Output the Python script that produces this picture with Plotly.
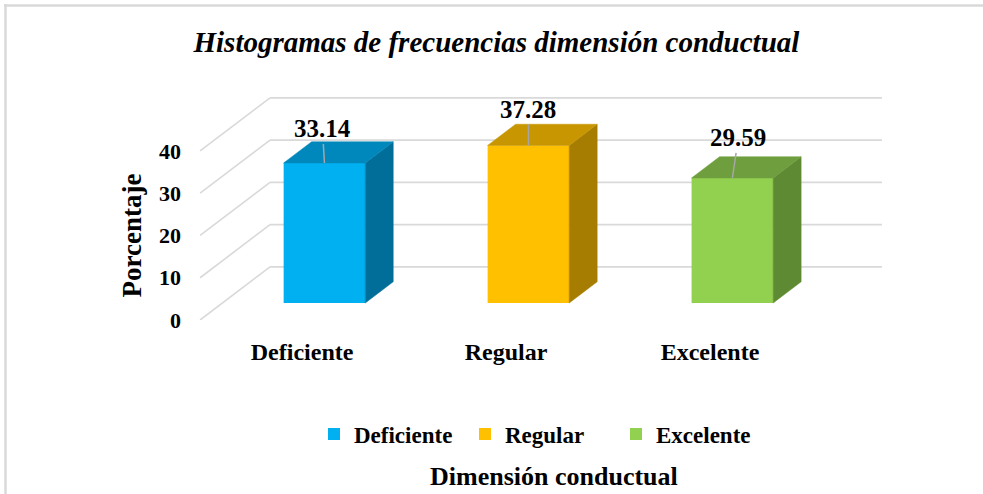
import plotly.graph_objects as go

# ---------------- data ----------------
CATEGORIES = ["Deficiente", "Regular", "Excelente"]
VALUES = [33.14, 37.28, 29.59]
Y_TICKS = [0, 10, 20, 30, 40]

TITLE = "Histogramas de frecuencias dimensión conductual"
X_TITLE = "Dimensión conductual"
Y_TITLE = "Porcentaje"

# ---------------- styles ----------------
FRONT_COLORS = ["#00B0F0", "#FFC000", "#92D050"]
TOP_COLORS = ["#0088BC", "#C79600", "#6F9E3E"]
SIDE_COLORS = ["#006E98", "#A67D00", "#5D8A33"]
GRID_COLOR = "#D9D9D9"
FONT = "Liberation Serif, Times New Roman, serif"

W, H = 983, 494
M_L, M_R, M_T, M_B = 196, 97, 96, 174
PW, PH = W - M_L - M_R, H - M_T - M_B

# oblique 3-D projection (in data units)
DEPTH_X, DEPTH_Y = 0.343, 12.56
D0, D1 = 0.32, 0.72          # bar front / back depth fractions
BAR_W = 0.40
X_RANGE = [-0.52, len(CATEGORIES) - 0.5 + DEPTH_X + 0.02]
Y_RANGE = [0, 53]
LABEL_SHIFT = [(-2, -34), (0, -36), (6, -40)]


def px_to_paper_x(px):
    return (px - M_L) / PW


def px_to_paper_y(py):
    return (H - M_B - py) / PH


fig = go.Figure()

# walls: left side wall diagonals + back wall horizontal gridlines
x_wall = -0.5
x_end = len(CATEGORIES) - 0.5
for t in Y_TICKS:
    fig.add_shape(type="line", xref="x", yref="y", layer="below",
                  x0=x_wall, y0=t, x1=x_wall + DEPTH_X, y1=t + DEPTH_Y,
                  line=dict(color=GRID_COLOR, width=1.6))
    fig.add_shape(type="line", xref="x", yref="y", layer="below",
                  x0=x_wall + DEPTH_X, y0=t + DEPTH_Y, x1=x_end + DEPTH_X, y1=t + DEPTH_Y,
                  line=dict(color=GRID_COLOR, width=1.6))

ddx = (D1 - D0) * DEPTH_X
ddy = (D1 - D0) * DEPTH_Y
base = D0 * DEPTH_Y

for i, (cat, v) in enumerate(zip(CATEGORIES, VALUES)):
    xc = i + D0 * DEPTH_X
    xl, xr = xc - BAR_W / 2, xc + BAR_W / 2
    top = base + v
    fig.add_trace(go.Bar(
        x=[xc], y=[v], base=[base], width=BAR_W, name=cat,
        marker=dict(color=FRONT_COLORS[i], line=dict(width=0)),
        hovertemplate=f"{cat}: {v:.2f}<extra></extra>",
    ))
    # side face
    fig.add_trace(go.Scatter(
        x=[xr, xr + ddx, xr + ddx, xr, xr],
        y=[base, base + ddy, top + ddy, top, base],
        mode="lines", fill="toself", fillcolor=SIDE_COLORS[i],
        line=dict(width=0.5, color=SIDE_COLORS[i]), showlegend=False, hoverinfo="skip",
    ))
    # top face
    fig.add_trace(go.Scatter(
        x=[xl, xr, xr + ddx, xl + ddx, xl],
        y=[top, top, top + ddy, top + ddy, top],
        mode="lines", fill="toself", fillcolor=TOP_COLORS[i],
        line=dict(width=0.5, color=TOP_COLORS[i]), showlegend=False, hoverinfo="skip",
    ))
    # data label with leader line
    fig.add_annotation(
        x=xc, y=top, xref="x", yref="y", text=f"{v:.2f}",
        showarrow=True, arrowhead=0, arrowwidth=1.5, arrowcolor="#A6A6A6",
        ax=LABEL_SHIFT[i][0], ay=LABEL_SHIFT[i][1], standoff=0,
        font=dict(family=FONT, size=25, color="#000000", weight="bold"),
    )

# y axis title, centred on the front axis
fig.add_annotation(
    x=px_to_paper_x(132), xref="paper", xanchor="center",
    y=(Y_TICKS[0] + Y_TICKS[-1]) / 2, yref="y", yanchor="middle",
    text=Y_TITLE, textangle=-90, showarrow=False,
    font=dict(family=FONT, size=27, color="#000000", weight="bold"),
)

# x axis title (below the legend)
fig.add_annotation(
    x=px_to_paper_x(554), xref="paper", xanchor="center",
    y=px_to_paper_y(476), yref="paper", yanchor="middle",
    text=X_TITLE, showarrow=False,
    font=dict(family=FONT, size=26, color="#000000", weight="bold"),
)

# chart-area frame (top and left edges visible)
fig.add_shape(type="line", xref="paper", yref="paper", layer="above",
              x0=px_to_paper_x(4), y0=px_to_paper_y(5.5),
              x1=px_to_paper_x(W + 10), y1=px_to_paper_y(5.5),
              line=dict(color=GRID_COLOR, width=2.5))
fig.add_shape(type="line", xref="paper", yref="paper", layer="above",
              x0=px_to_paper_x(5.5), y0=px_to_paper_y(4),
              x1=px_to_paper_x(5.5), y1=px_to_paper_y(H + 10),
              line=dict(color=GRID_COLOR, width=2.5))

fig.update_layout(
    width=W, height=H,
    margin=dict(l=M_L, r=M_R, t=M_T, b=M_B, autoexpand=False),
    paper_bgcolor="#FFFFFF", plot_bgcolor="rgba(0,0,0,0)",
    barmode="overlay",
    title=dict(text=TITLE, x=0.505, xref="container", xanchor="center",
               y=1 - 42 / H, yref="container", yanchor="middle",
               font=dict(family=FONT, size=29, color="#000000", style="italic", weight="bold")),
    legend=dict(orientation="h", x=px_to_paper_x(314), xref="paper", xanchor="left",
                y=1 - 434 / H, yref="container", yanchor="middle",
                entrywidth=106, entrywidthmode="pixels",
                font=dict(family=FONT, size=23, color="#000000", weight="bold"),
                bgcolor="rgba(0,0,0,0)"),
    xaxis=dict(range=X_RANGE, tickmode="array", tickvals=list(range(len(CATEGORIES))),
               ticktext=CATEGORIES, showgrid=False, zeroline=False, showline=False,
               ticks="", ticklabelstandoff=15, automargin=False, fixedrange=True,
               tickfont=dict(family=FONT, size=24, color="#000000", weight="bold")),
    yaxis=dict(range=Y_RANGE, tickmode="array", tickvals=Y_TICKS,
               showgrid=False, zeroline=False, showline=False, ticks="",
               ticklabelstandoff=14, automargin=False, fixedrange=True,
               tickfont=dict(family=FONT, size=22, color="#000000", weight="bold")),
    showlegend=True,
)

fig.write_html("out.html", config={"displayModeBar": False},
               post_script="document.body.style.margin='0';")
